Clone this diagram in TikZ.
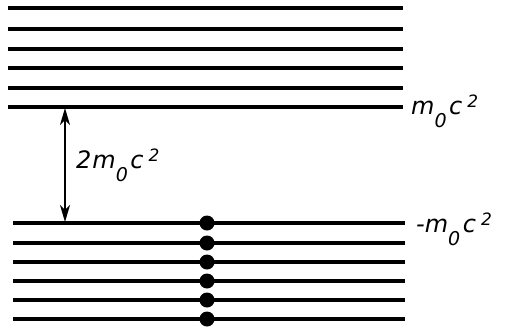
\documentclass[tikz,border=0pt]{standalone}
\usepackage{fontspec}
\setmainfont{DejaVu Sans}
\usetikzlibrary{arrows.meta}
\newcommand{\subz}{\raisebox{-13pt}{\fontsize{19}{20}\selectfont\itshape 0}}
\newcommand{\supt}{\raisebox{7pt}{\fontsize{17}{18}\selectfont\itshape 2}}
\newcommand{\mcsq}{\textit{m}\kern0pt\subz\kern2.5pt\textit{c}\kern5pt\supt}
\begin{document}
\begin{tikzpicture}[x=1pt,y=-1pt,
  level/.style={line width=3.4pt},
  dot/.style={circle,fill=black,inner sep=0pt,minimum size=15pt},
  lab/.style={font=\fontsize{24}{28}\selectfont,inner sep=0pt,anchor=base west},
  gap/.style={line width=1.8pt,{Stealth[length=17pt,width=10pt,inset=5pt]}-{Stealth[length=17pt,width=10pt,inset=5pt]}}]
\useasboundingbox (0,0) rectangle (510,335);
% upper levels
\foreach \y/\n in {8/u1,29/u2,49/u3,68/u4,88/u5,107/u6}{
  \coordinate (\n l) at (8,\y);
  \coordinate (\n r) at (403,\y);
  \draw[level] (\n l) -- (\n r);
}
% lower levels with dots
\foreach \y/\n in {223/d1,243/d2,262/d3,281/d4,300/d5,319/d6}{
  \coordinate (\n l) at (13,\y);
  \coordinate (\n r) at (405,\y);
  \draw[level] (\n l) -- (\n r);
  \node[dot] (\n dot) at (207,\y) {};
}
\coordinate (gt) at (65,108);
\coordinate (gb) at (65,222);
\draw[gap] (gt) -- (gb);
\node[lab] (gl) at (76,168) {\textit{2}\kern1pt\mcsq};
\node[lab] (ul) at (411,114) {\mcsq};
\node[lab] (dl) at (416,232) {\textit{-}\kern0pt\mcsq};
\end{tikzpicture}
\end{document}
